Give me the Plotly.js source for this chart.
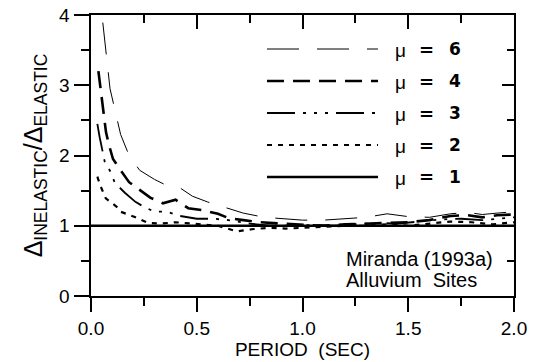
<!DOCTYPE html>
<html>
<head>
<meta charset="utf-8">
<script src="https://cdn.plot.ly/plotly-3.0.1.min.js"></script>
<style>html,body{margin:0;padding:0;background:#fff;}#chart{width:535px;height:362px;}</style>
</head>
<body>
<div id="chart"></div>
<script>
// ---- data ----
const t6 = [0.03, 0.05, 0.07, 0.09, 0.12, 0.14, 0.18, 0.23, 0.30, 0.36, 0.42, 0.48, 0.55, 0.63, 0.72, 0.82, 0.92, 1.00, 1.10, 1.20, 1.30, 1.40, 1.50, 1.60, 1.70, 1.78, 1.85, 1.92, 2.00];
const mu6 = [4.60, 4.00, 3.50, 2.95, 2.55, 2.30, 2.00, 1.79, 1.66, 1.57, 1.54, 1.42, 1.34, 1.26, 1.18, 1.12, 1.10, 1.08, 1.08, 1.10, 1.12, 1.17, 1.13, 1.12, 1.17, 1.19, 1.16, 1.18, 1.20];

const t4 = [0.035, 0.046, 0.057, 0.071, 0.085, 0.104, 0.14, 0.18, 0.23, 0.28, 0.34, 0.40, 0.46, 0.53, 0.60, 0.65, 0.72, 0.80, 0.90, 1.00, 1.10, 1.20, 1.30, 1.40, 1.50, 1.60, 1.70, 1.78, 1.85, 1.92, 2.00];
const mu4 = [3.20, 2.93, 2.62, 2.33, 2.15, 1.95, 1.79, 1.62, 1.51, 1.40, 1.32, 1.37, 1.25, 1.22, 1.17, 1.11, 1.08, 1.05, 1.03, 1.02, 1.00, 1.02, 1.03, 1.05, 1.05, 1.08, 1.14, 1.15, 1.12, 1.15, 1.16];

const t3 = [0.03, 0.041, 0.065, 0.09, 0.113, 0.16, 0.21, 0.25, 0.30, 0.36, 0.42, 0.50, 0.58, 0.65, 0.75, 0.85, 0.95, 1.05, 1.15, 1.25, 1.35, 1.45, 1.55, 1.65, 1.75, 1.85, 2.00];
const mu3 = [2.45, 2.26, 1.91, 1.78, 1.61, 1.47, 1.34, 1.27, 1.20, 1.20, 1.14, 1.10, 1.10, 1.08, 1.03, 1.00, 1.00, 1.01, 1.00, 1.02, 1.04, 1.03, 1.06, 1.09, 1.10, 1.08, 1.12];

const t2 = [0.03, 0.043, 0.07, 0.09, 0.13, 0.14, 0.19, 0.21, 0.27, 0.33, 0.40, 0.50, 0.60, 0.69, 0.76, 0.84, 0.92, 1.00, 1.10, 1.20, 1.30, 1.40, 1.50, 1.60, 1.70, 1.80, 1.90, 2.00];
const mu2 = [1.70, 1.58, 1.39, 1.34, 1.25, 1.20, 1.15, 1.12, 1.04, 1.03, 1.05, 1.03, 1.00, 0.92, 0.95, 0.97, 0.96, 0.97, 0.99, 1.00, 1.00, 1.02, 1.00, 1.03, 1.06, 1.05, 1.02, 1.05];

const t1 = [0.0, 2.0];
const mu1 = [1.0, 1.0];

const legendLabels = ['6', '4', '3', '2', '1'];
const xTicks = [0, 0.5, 1.0, 1.5, 2.0];
const xTickText = ['0.0', '0.5', '1.0', '1.5', '2.0'];
const yTicks = [0, 1, 2, 3, 4];
const noteLines = ['Miranda (1993a)', 'Alluvium&nbsp;&nbsp;Sites'];

// ---- styles ----
const styles = {
  '6': {width: 1.0, dash: '32px,18px'},
  '4': {width: 2.6, dash: '17px,9px'},
  '3': {width: 1.8, dash: '28px,8px,3px,8px,3px,8px,3px,8px'},
  '2': {width: 2.2, dash: '5px,6px'},
  '1': {width: 2.6, dash: 'solid'}
};
const seriesT = {'6': t6, '4': t4, '3': t3, '2': t2, '1': t1};
const seriesV = {'6': mu6, '4': mu4, '3': mu3, '2': mu2, '1': mu1};

const FONT = 'Liberation Sans, Arial, sans-serif';
const BOLDFONT = 'DejaVu Sans, sans-serif';

const traces = legendLabels.map(k => ({
  x: seriesT[k], y: seriesV[k], type: 'scatter', mode: 'lines',
  line: {color: '#000', width: styles[k].width, dash: styles[k].dash},
  showlegend: false, hoverinfo: 'skip', cliponaxis: true
}));
traces.push({x: [], y: [], xaxis: 'x2', yaxis: 'y2', type: 'scatter', mode: 'lines', showlegend: false});

// legend drawn as shapes + annotations in paper coords
const legRowsPx = [49, 81, 113, 145, 177];
const plotTop = 15, plotBottom = 296, plotLeft = 91, plotRight = 514;
const py = p => (plotBottom - p) / (plotBottom - plotTop);
const px = p => (p - plotLeft) / (plotRight - plotLeft);

const shapes = [];
const annotations = [];
function ann(x, y, text, font, anchor) {
  annotations.push({xref: 'paper', yref: 'paper', x: px(x), y: py(y), xanchor: anchor || 'left',
    yanchor: 'middle', showarrow: false, text: text, font: font});
}
legendLabels.forEach((k, i) => {
  const yy = legRowsPx[i];
  shapes.push({type: 'line', xref: 'paper', yref: 'paper',
    x0: px(267), x1: px(378), y0: py(yy), y1: py(yy),
    line: {color: '#000', width: styles[k].width, dash: styles[k].dash}});
  ann(393, yy + 1, 'μ', {family: FONT, size: 19, color: '#000'});
  ann(417, yy, '<b>=</b>', {family: BOLDFONT, size: 18, color: '#000'});
  ann(447, yy, '<b>' + k + '</b>', {family: BOLDFONT, size: 17, color: '#000'});
});
ann(344, 259, noteLines[0], {family: FONT, size: 20, color: '#000'});
ann(344, 280, noteLines[1], {family: FONT, size: 20, color: '#000'});

const layout = {
  width: 535, height: 362,
  margin: {l: plotLeft, r: 535 - plotRight, t: plotTop, b: 362 - plotBottom, pad: 0},
  paper_bgcolor: '#fff', plot_bgcolor: '#fff',
  font: {family: FONT, color: '#000', size: 18},
  showlegend: false,
  xaxis: {
    range: [0, 2], tickvals: xTicks, ticktext: xTickText, ticks: 'outside', ticklen: 14, tickwidth: 2,
    tickcolor: '#000', showline: true, linewidth: 2, linecolor: '#000', showgrid: false, zeroline: false,
    tickfont: {family: FONT, size: 19},
    minor: {tickvals: [0.25, 0.75, 1.25, 1.75], ticks: 'outside', ticklen: 8, tickwidth: 2, tickcolor: '#000', showgrid: false},
    title: {text: 'PERIOD&nbsp;&nbsp;(SEC)', font: {family: FONT, size: 19}, standoff: 2}
  },
  yaxis: {
    range: [0, 4], tickvals: yTicks, ticks: 'outside', ticklen: 15, tickwidth: 2, tickcolor: '#000',
    showline: true, linewidth: 2.5, linecolor: '#000', showgrid: false, zeroline: false,
    tickfont: {family: FONT, size: 19},
    minor: {tickvals: [0.5, 1.5, 2.5, 3.5], ticks: 'outside', ticklen: 8, tickwidth: 2, tickcolor: '#000', showgrid: false},
    title: {text: 'Δ<sub>INELASTIC</sub>/Δ<sub>ELASTIC</sub>', font: {family: FONT, size: 25}, standoff: 10}
  },
  xaxis2: {
    overlaying: 'x', side: 'top', anchor: 'y2', range: [0, 2], tickvals: xTicks, showticklabels: false,
    ticks: 'inside', ticklen: 14, tickwidth: 2, tickcolor: '#000', showline: true, linewidth: 2, linecolor: '#000',
    showgrid: false, zeroline: false,
    minor: {tickvals: [0.25, 0.75, 1.25, 1.75], ticks: 'inside', ticklen: 8, tickwidth: 2, tickcolor: '#000', showgrid: false}
  },
  yaxis2: {
    overlaying: 'y', side: 'right', anchor: 'x2', range: [0, 4], tickvals: yTicks, showticklabels: false,
    ticks: 'inside', ticklen: 12, tickwidth: 2, tickcolor: '#000', showline: true, linewidth: 2, linecolor: '#000',
    showgrid: false, zeroline: false,
    minor: {tickvals: [0.5, 1.5, 2.5, 3.5], ticks: 'inside', ticklen: 7, tickwidth: 2, tickcolor: '#000', showgrid: false}
  },
  shapes: shapes,
  annotations: annotations
};

Plotly.newPlot('chart', traces, layout, {staticPlot: true, displayModeBar: false});
</script>
</body>
</html>
